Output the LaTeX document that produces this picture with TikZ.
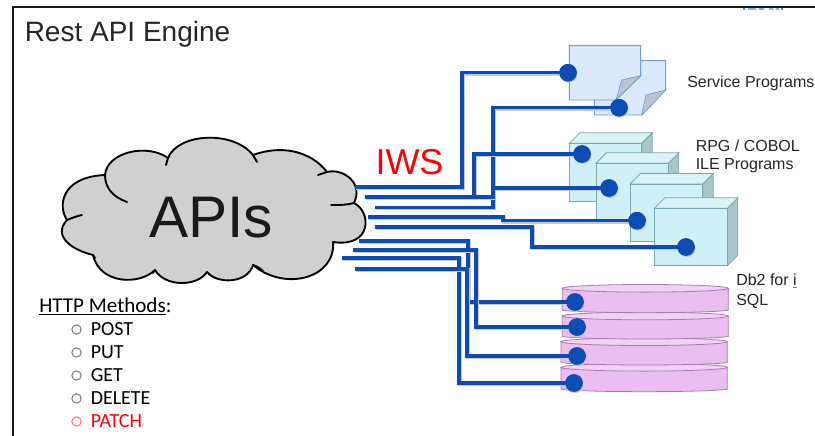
\documentclass[tikz,border=0pt]{standalone}
\usepackage{fontspec}
\setmainfont{Liberation Sans}
\newfontfamily\calib{Carlito}
\definecolor{wire}{HTML}{0B4DB5}
\definecolor{docfill}{HTML}{DCE8FC}
\definecolor{docedge}{HTML}{6E9BDE}
\definecolor{foldfill}{HTML}{B9C4D4}
\definecolor{cubefront}{HTML}{CFF0F7}
\definecolor{cubetop}{HTML}{D9F3F6}
\definecolor{cubeside}{HTML}{A9C5CA}
\definecolor{cubeedge}{HTML}{78A8AE}
\definecolor{diskfill}{HTML}{EBBEF1}
\definecolor{disktop}{HTML}{F1D2F6}
\definecolor{diskedge}{HTML}{A77CB0}
\definecolor{cloudfill}{HTML}{D0D0D0}
\tikzset{
  wireline/.style={draw=wire,line width=2.6pt,line join=miter,
    preaction={draw=black!22,line width=2.6pt,transform canvas={shift={(0.6pt,-0.9pt)}}}},
  wiredot/.style={circle,fill=wire,minimum size=13.2pt,inner sep=0pt,
    preaction={fill=black!22,transform canvas={shift={(0.6pt,-0.9pt)}}}},
  docshape/.style={draw=docedge,fill=docfill,line width=0.7pt},
  foldshape/.style={draw=docedge,fill=foldfill,line width=0.5pt},
  label/.style={inner sep=0pt,anchor=base west,text=black!85,font=\fontsize{12}{14.4}\selectfont},
  bullet/.style={circle,draw=#1,line width=0.7pt,minimum size=7pt,inner sep=0pt},
  meth/.style={inner sep=0pt,anchor=base west,font=\calib\fontsize{15}{17}\selectfont}
}
\newcommand{\cubeat}[4]{% left top right bottom
  \fill[cubeside,draw=cubeedge,line width=0.6pt] (#3,#2) -- ++(10.5,-10.5) -- ++(0,57.5) -- (#3,#4) -- cycle;
  \fill[cubetop,draw=cubeedge,line width=0.6pt] (#1,#2) -- ++(10.5,-10.5) -- ({#3+10.5},{#2-10.5}) -- (#3,#2) -- cycle;
  \fill[cubefront,draw=cubeedge,line width=0.6pt] (#1,#2) rectangle (#3,#4);
}
\newcommand{\diskat}[4]{% left right ytop ybottom
  \path[fill=diskfill,draw=diskedge,line width=0.6pt] (#1,#3) -- (#1,{#4-2.5}) .. controls ({#1+20},{#4+0.8}) and ({#2-20},{#4+0.8}) .. (#2,{#4-2.5}) -- (#2,#3) -- cycle;
  \path[fill=disktop,draw=diskedge,line width=0.6pt] ({(#1+#2)/2},#3) ellipse [x radius={(#2-#1)/2},y radius=3.8];
}
\begin{document}
\begin{tikzpicture}[x=0.75pt,y=-0.75pt]
\useasboundingbox (0,0) rectangle (815,436);
\fill[white] (0,0) rectangle (815,436);
% clipped fragment
\fill[cyan!70!blue,opacity=.55] (748,8) rectangle (756,10);
\fill[cyan!70!blue,opacity=.55] (759,8) rectangle (764,10);
\fill[cyan!70!blue,opacity=.55] (769,8) rectangle (773,10);
\fill[cyan!70!blue,opacity=.55] (776,8) rectangle (779,10);
\fill[black!50] (743,8) rectangle (745,10);
\fill[black!50] (781,8) rectangle (783,10);
% frame
\draw[black!90,line width=1.2pt] (13,436) -- (13,7) -- (815,7);
\node[inner sep=0pt,anchor=base west,text=black!85,font=\fontsize{21}{24}\selectfont] (title) at (24.5,41) {Rest API Engine};
% cloud
\path[fill=cloudfill,draw=black,line width=1.4pt,line join=round]
 (67,220) .. controls (58,207) and (60,177) .. (105,175)
 .. controls (107,152) and (147,143) .. (168,158)
 .. controls (178,133) and (233,130) .. (253,155)
 .. controls (280,145) and (310,150) .. (327,172)
 .. controls (342,168) and (364,182) .. (354,203)
 .. controls (372,212) and (372,248) .. (333,242)
 .. controls (336,278) and (285,292) .. (253,265)
 .. controls (248,283) and (218,285) .. (207,272)
 .. controls (197,287) and (165,287) .. (155,270)
 .. controls (140,285) and (100,285) .. (93,255)
 .. controls (72,250) and (52,236) .. (67,220) -- cycle;
\draw[black,line width=1.4pt,line cap=round]
 (105,175) .. controls (105,188) and (113,197) .. (127,202)
 (67,220) .. controls (72,218) and (77,216) .. (82,215)
 (93,255) -- (95,258)
 (168,158) -- (166,165)
 (253,155) -- (257,162)
 (327,172) -- (318,175)
 (354,203) .. controls (347,205) and (340,205) .. (331,205)
 (253,265) .. controls (256,266) and (260,268) .. (263,271)
 (155,270) -- (153,273);
\node[inner sep=0pt,anchor=base,text=black!90,font=\fontsize{44}{50}\selectfont] (apis) at (211,237) {APIs};
\node[inner sep=0pt,anchor=base,text=red,font=\fontsize{27}{30}\selectfont] (iws) at (409.5,174) {IWS};
% documents
\path[docshape] (594.3,115) -- (594.3,60.7) -- (665.7,60.7) -- (665.7,90) -- (641.7,115) -- cycle;
\path[foldshape] (665.7,90) -- (646,95) -- (641.7,115) -- cycle;
\path[docshape] (569.3,45.7) -- (640.7,45.7) -- (640.7,75.7) -- (616,100) -- (569.3,100) -- cycle;
\path[foldshape] (640.7,75.7) -- (621.7,80) -- (616,100) -- cycle;
% cubes
\cubeat{569.3}{143.3}{641.7}{201}
\cubeat{596}{163.3}{668.3}{221}
\cubeat{630}{184}{702.7}{241.7}
\cubeat{654.3}{208.3}{727.3}{265.7}
% disks
\diskat{561}{727.3}{367.3}{391.7}
\diskat{561}{727.3}{341.7}{365}
\diskat{562.3}{728.3}{316}{339}
\diskat{562.3}{728.3}{288.3}{312.7}
% dots
\node[wiredot] (sp1) at (568,72.7) {};
\node[wiredot] (sp2) at (619,107.7) {};
\node[wiredot] (rp1) at (582,154) {};
\node[wiredot] (rp2) at (609,188) {};
\node[wiredot] (rp3) at (637,220.7) {};
\node[wiredot] (rp4) at (686,247) {};
\node[wiredot] (db1) at (575,302) {};
\node[wiredot] (db2) at (577,327) {};
\node[wiredot] (db3) at (577,356) {};
\node[wiredot] (db4) at (574,383) {};
% free ends
\coordinate (a1) at (355,187);
\coordinate (a2) at (375,207.5);
\coordinate (a3) at (365,197);
\coordinate (a4) at (365,197);
\coordinate (a5) at (368,217);
\coordinate (a6) at (375,227);
\coordinate (b1) at (359,241);
\coordinate (b2) at (353,250);
\coordinate (b3) at (342,258);
\coordinate (b4) at (355,269);
% connectors
\draw[wireline] (a1) -- (462,187) -- (462,72.7) -- (sp1.center);
\draw[wireline] (a2) -- (493,207.5) -- (493,107.7) -- (sp2.center);
\draw[wireline] (a3) -- (474,197) -- (474,154) -- (rp1.center);
\draw[wireline] (a4) -- (493,197) -- (493,188) -- (rp2.center);
\draw[wireline] (a5) -- (503,217) -- (503,220.7) -- (rp3.center);
\draw[wireline] (a6) -- (532,227) -- (532,247) -- (rp4.center);
\draw[wireline] (b1) -- (468,241) -- (468,302) -- (db1.center);
\draw[wireline] (b2) -- (476,250) -- (476,327) -- (db2.center);
\draw[wireline] (b3) -- (459,258) -- (459,383) -- (db4.center);
\draw[wireline] (b4) -- (467,269) -- (467,356) -- (db3.center);
% redraw dots above wires
\foreach \n in {sp1,sp2,rp1,rp2,rp3,rp4,db1,db2,db3,db4}{\fill[wire] (\n) circle (8.7);}
% labels
\node[label] (lsp) at (687,87.5) {Service Programs};
\node[label] (lrp) at (695.5,151.5) {RPG / COBOL};
\node[label] (lrq) at (695.5,169.5) {ILE Programs};
\node[label] (ldb) at (736,285.5) {Db2 for i};
\node[label] (lsq) at (736,305) {SQL};
\draw[red!70,line width=0.5pt] (792.5,287.5) -- (797,287.5);
% http methods
\node[meth,font=\calib\fontsize{15.8}{18}\selectfont] (hm) at (39,312) {\underline{HTTP Methods}:};
\foreach \nm/\yy/\tx/\cc/\bc in {mpost/335/POST/black/black!55,mput/358/PUT/black/black!55,mget/381/GET/black/black!55,mdel/404/DELETE/black/black!55,mpat/427/PATCH/red/red!60}{
  \node[bullet=\bc] (\nm b) at (76.5,{\yy-5.5}) {};
  \node[meth,text=\cc] (\nm) at (90.5,\yy) {\tx};
}
\end{tikzpicture}
\end{document}
